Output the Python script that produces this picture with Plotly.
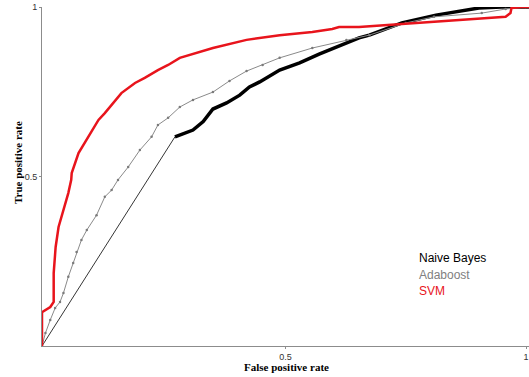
import plotly.graph_objects as go

# Naive Bayes ROC
nb_fpr = [0.0, 0.273, 0.283, 0.310, 0.331, 0.351, 0.379, 0.406, 0.426, 0.447, 0.488,
          0.529, 0.569, 0.651, 0.672, 0.739, 0.809, 0.897, 0.944, 0.993, 1.0]
nb_tpr = [0.0, 0.617, 0.622, 0.637, 0.662, 0.699, 0.717, 0.740, 0.764, 0.779, 0.814,
          0.835, 0.861, 0.909, 0.917, 0.953, 0.976, 0.997, 1.0, 1.0, 1.0]

# Adaboost ROC
ada_fpr = [0.0, 0.007, 0.017, 0.027, 0.037, 0.044, 0.054, 0.064, 0.071, 0.081, 0.092,
           0.112, 0.129, 0.143, 0.156, 0.177, 0.201, 0.225, 0.238, 0.259, 0.283,
           0.310, 0.351, 0.385, 0.420, 0.453, 0.488, 0.555, 0.625, 0.672, 0.747,
           0.805, 0.903, 0.952, 0.993, 1.0]
ada_tpr = [0.0, 0.038, 0.077, 0.112, 0.130, 0.156, 0.204, 0.245, 0.277, 0.313, 0.342,
           0.386, 0.440, 0.460, 0.490, 0.528, 0.578, 0.617, 0.652, 0.673, 0.705,
           0.726, 0.749, 0.782, 0.811, 0.829, 0.850, 0.879, 0.903, 0.917, 0.953,
           0.971, 0.982, 0.994, 1.0, 1.0]

# SVM ROC
svm_fpr = [0.0, 0.0, 0.017, 0.024, 0.024, 0.028, 0.034, 0.044, 0.054, 0.060, 0.061,
           0.075, 0.088, 0.116, 0.129, 0.163, 0.191, 0.211, 0.238, 0.259, 0.283,
           0.351, 0.420, 0.488, 0.555, 0.596, 0.610, 0.651, 0.739, 0.835, 0.952,
           0.962, 0.964, 0.985, 1.0]
svm_tpr = [0.0, 0.100, 0.115, 0.130, 0.215, 0.292, 0.351, 0.401, 0.451, 0.490, 0.510,
           0.569, 0.599, 0.667, 0.687, 0.746, 0.776, 0.791, 0.814, 0.829, 0.850,
           0.879, 0.903, 0.917, 0.926, 0.935, 0.941, 0.941, 0.950, 0.959, 0.971,
           0.982, 0.997, 1.0, 1.0]

x_tick_vals = [0.5, 0.994]
y_tick_vals = [0.5, 1]
tick_text = ["0.5", "1"]
legend_names = ["Naive Bayes", "Adaboost", "SVM"]
legend_colors = ["#000000", "#808080", "#e8141c"]

W, H = 529, 377
ml, mr, mt, mb = 42, 0, 7, 31
pw, ph = W - ml - mr, H - mt - mb


def px_x(px):
    return (px - ml) / pw


def px_y(py):
    return (H - mb - py) / ph


fig = go.Figure()
# first (long straight) NB segment drawn thin
fig.add_trace(go.Scatter(x=nb_fpr[:2], y=nb_tpr[:2], mode="lines",
                         line=dict(color="#000000", width=0.8), showlegend=False))
fig.add_trace(go.Scatter(x=nb_fpr[1:], y=nb_tpr[1:], mode="lines",
                         line=dict(color="#000000", width=3.5), showlegend=False))
fig.add_trace(go.Scatter(x=ada_fpr, y=ada_tpr, mode="lines+markers",
                         line=dict(color="#8a8a8a", width=1),
                         marker=dict(color="#7a7a7a", size=2.5), showlegend=False))
fig.add_trace(go.Scatter(x=svm_fpr, y=svm_tpr, mode="lines",
                         line=dict(color="#e8141c", width=2.5), showlegend=False))

for i, (name, col) in enumerate(zip(legend_names, legend_colors)):
    fig.add_annotation(x=px_x(417), y=px_y(258 + i * 16.5), xref="x domain", yref="y domain",
                       text=name, showarrow=False, xanchor="left", yanchor="middle",
                       font=dict(family="Liberation Sans, Arial", size=12, color=col))

fig.add_annotation(x=px_x(286), y=px_y(367), xref="x domain", yref="y domain",
                   text="<b>False positive rate</b>", showarrow=False,
                   xanchor="center", yanchor="middle",
                   font=dict(family="Liberation Serif, Times New Roman", size=11, color="#000"))
fig.add_annotation(x=px_x(18), y=px_y(163), xref="x domain", yref="y domain",
                   text="<b>True positive rate</b>", showarrow=False, textangle=-90,
                   xanchor="center", yanchor="middle",
                   font=dict(family="Liberation Serif, Times New Roman", size=11, color="#000"))

axis_common = dict(range=[0, 1], showgrid=False, zeroline=False, showline=True,
                   automargin=False,
                   linecolor="#8c8c8c", linewidth=1, ticks="outside", ticklen=2,
                   tickcolor="#8c8c8c", ticktext=tick_text,
                   tickfont=dict(family="Liberation Sans, Arial", size=9, color="#333"))

fig.update_layout(
    width=W, height=H,
    margin=dict(l=ml, r=mr, t=mt, b=mb, autoexpand=False),
    plot_bgcolor="white", paper_bgcolor="white",
    xaxis=dict(**axis_common, tickvals=x_tick_vals),
    yaxis=dict(**axis_common, tickvals=y_tick_vals),
    showlegend=False,
)
fig.write_html("out.html", config={"displayModeBar": False},
               post_script="document.body.style.margin='0';document.body.style.overflow='hidden';")
